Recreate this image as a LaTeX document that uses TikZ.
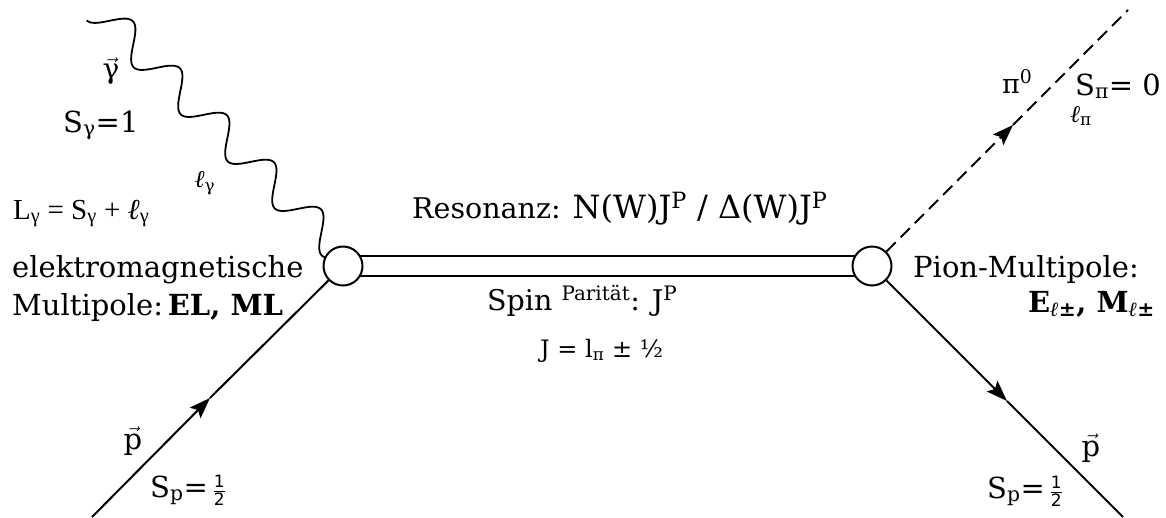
\documentclass[tikz,border=0pt]{standalone}
\usepackage{fontspec}
\setmainfont{DejaVu Serif}
\setsansfont{DejaVu Sans}
\newfontfamily\libserif{Liberation Serif}
\usetikzlibrary{arrows.meta,calc}
\newcommand\halffrac{\ensuremath{\frac{\mbox{\sffamily\fontsize{17}{17}\selectfont 1}}{\mbox{\sffamily\fontsize{17}{17}\selectfont 2}}}}
\newcommand\vecsym[1]{\ensuremath{\vec{\mbox{#1}}}}
\newcommand\lsym{{\libserif\itshape ℓ}}
\newcommand\lbsym{{\libserif\bfseries\itshape ℓ}}
\tikzset{
  lbl/.style={inner sep=0pt, font=\fontsize{29}{32}\selectfont},
  mid/.style={inner sep=0pt, font=\fontsize{28.5}{32}\selectfont},
  sml/.style={inner sep=0pt, font=\fontsize{24}{28}\selectfont},
  vertex/.style={circle, draw, line width=2pt, fill=white, minimum size=39pt, inner sep=0pt},
  fermion/.style={line width=2pt},
  pionline/.style={line width=1.8pt, dash pattern=on 13pt off 7pt},
  photonline/.style={line width=1.8pt, line join=round},
  tip/.style={-{Stealth[length=21pt,width=15pt,inset=4pt]}}
}
\begin{document}
\begin{tikzpicture}[x=1pt,y=1pt]
\useasboundingbox (0,0) rectangle (1166,-517);
% vertices
\coordinate (Lc) at (343,-266);
\coordinate (Rc) at (872,-266);
\draw[fermion] ([yshift=10pt]Lc) -- ([yshift=10pt]Rc);
\draw[fermion] ([yshift=-10pt]Lc) -- ([yshift=-10pt]Rc);
\node[vertex] (L) at (Lc) {};
\node[vertex] (R) at (Rc) {};
% external points
\coordinate (gs) at (98,-9);
\coordinate (pin) at (92,-517);
\coordinate (pout) at (1123,-517);
\coordinate (piend) at (1128,-10);
\coordinate (pa1) at (210,-398);
\coordinate (pa2) at (1007,-401);
\coordinate (pa3) at (1013,-125);
% photon (wavy line from gs to the border of L)
\begin{scope}[shift={(gs)}, rotate=-45]
  \draw[photonline] plot[domain=0:336, samples=320, smooth] (\x, {-16*cos(5.4135*\x)});
\end{scope}
% lines
\draw[fermion,tip] (pin) -- (pa1);
\draw[fermion] (pa1) -- (L);
\draw[fermion,tip] (R) -- (pa2);
\draw[fermion] (pa2) -- (pout);
\draw[pionline,tip] (R) -- (pa3);
\draw[pionline] (pa3) -- (piend);
% left labels
\node[sml, font=\fontsize{28}{30}\selectfont] (gv) at (111,-71) {\vecsym{γ}};
\node[lbl, anchor=base west] (sg) at (63,-132) {S\textsubscript{γ}=1};
\node[sml] (lg) at (205,-183) {\lsym\textsubscript{γ}};
\node[sml, anchor=base west, font=\fontsize{29}{30}\selectfont] (Lg) at (13,-219) {\libserif L\textsubscript{γ} = S\textsubscript{γ} + \lsym\textsubscript{γ}};
\node[lbl, anchor=base west] (em1) at (12,-277) {elektromagnetische};
\node[lbl, anchor=base west] (em2) at (12,-315) {Multipole:\,\textbf{EL, ML}};
\node[lbl] (pv1) at (133,-441) {\vecsym{p}};
\node[lbl, anchor=base west] (sp1) at (150,-497) {S\textsubscript{p}=\,\halffrac};
% middle labels
\node[mid, anchor=base west] (res) at (412,-218) {Resonanz: {\fontsize{32}{33}\selectfont N(W)J\textsuperscript{P} / Δ(W)J\textsuperscript{P}}};
\node[mid, anchor=base west] (spin) at (487,-310) {Spin \textsuperscript{Parität}: J\textsuperscript{P}};
\node[sml, anchor=base west] (jj) at (540,-357) {J = l\textsubscript{π} ± ½};
% right labels
\node[sml, anchor=base west, font=\fontsize{27}{30}\selectfont] (pi0) at (1002,-93) {π\textsuperscript{0}};
\node[lbl, anchor=base west] (spi) at (1075,-95) {S\textsubscript{π}= 0};
\node[sml, anchor=base west] (lpi) at (1070,-122) {\lsym\textsubscript{π}};
\node[lbl, anchor=base west] (pm1) at (913,-277) {Pion-Multipole:};
\node[lbl, anchor=base east] (pm2) at (1155,-312) {\textbf{E\textsubscript{\lbsym±}, M\textsubscript{\lbsym±}}};
\node[lbl] (pv2) at (1091,-448) {\vecsym{p}};
\node[lbl, anchor=base west] (sp2) at (987,-498) {S\textsubscript{p}=\,\halffrac};
\end{tikzpicture}
\end{document}
